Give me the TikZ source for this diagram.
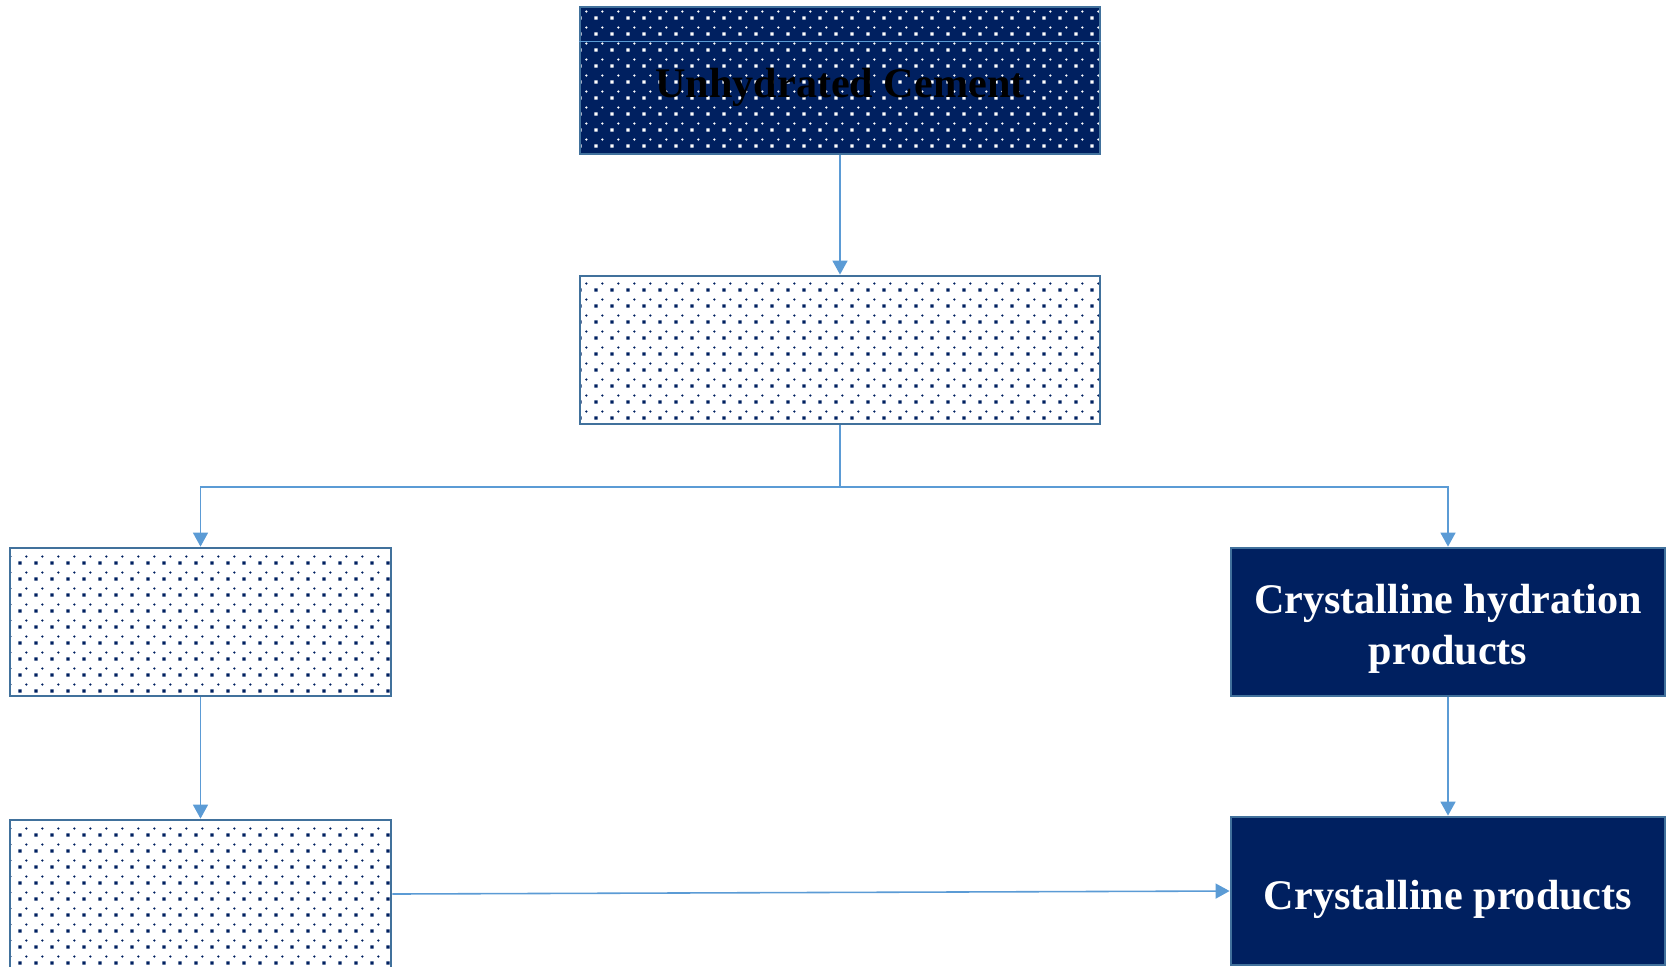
\documentclass[tikz,border=0pt]{standalone}
\usepackage{fontspec}
\setmainfont{Liberation Serif}
\usetikzlibrary{arrows.meta,patterns.meta}

\definecolor{navyfill}{RGB}{0,32,96}
\definecolor{boxline}{RGB}{65,113,156}
\definecolor{flowline}{RGB}{91,155,213}

\tikzdeclarepattern{
  name=dotgrid, type=uncolored,
  bottom left={(0,0)}, top right={(0.16cm,0.16cm)},
  tile size={(0.16cm,0.16cm)},
  code={
    \fill (0.025cm,0.025cm) rectangle (0.06cm,0.06cm);
    \fill (0.11cm,0.11cm) circle (0.013cm);
  }
}

\newcommand{\lowerstrut}[1]{\rule{0pt}{#1}}

\begin{document}
\begin{tikzpicture}
  \tikzset{box/.style = {draw=boxline, line width=0.8pt, inner sep=0pt, align=center,
      font=\fontsize{12}{14.5}\selectfont\bfseries}}
  \tikzset{dotbox/.style = {box, pattern=dotgrid, pattern color=navyfill}}
  \tikzset{darkdotbox/.style = {box, preaction={fill=navyfill}, pattern=dotgrid, pattern color=white}}
  \tikzset{darkbox/.style = {box, fill=navyfill, text=white}}
  \tikzset{flow/.style = {color=flowline, line width=0.45pt, -{Triangle[width=0.15cm,length=0.14cm]}}}

\useasboundingbox (0,0) rectangle (16.66,-9.66);

\node[darkdotbox, minimum width=5.20cm, minimum height=1.47cm] (cement) at (8.40,-0.805) {\lowerstrut{12.5pt}Unhydrated Cement};
\node[dotbox, minimum width=5.20cm, minimum height=1.48cm] (hyd) at (8.40,-3.50) {};
\node[dotbox, minimum width=3.81cm, minimum height=1.48cm] (amorph) at (2.005,-6.22) {};
\node[darkbox, minimum width=4.34cm, minimum height=1.48cm] (crysthyd) at (14.48,-6.22) {\lowerstrut{12pt}Crystalline hydration\\products};
\node[dotbox, minimum width=3.81cm, minimum height=1.48cm] (amorph2) at (2.005,-8.94) {};
\node[darkbox, minimum width=4.34cm, minimum height=1.48cm] (cryst) at (14.48,-8.91) {\lowerstrut{13pt}Crystalline products};

\coordinate (split) at (8.40,-4.87);

% thin line near the top of the first box
\draw[flowline, line width=0.4pt] ([yshift=-0.36cm]cement.north west) -- ([yshift=-0.36cm]cement.north east);

  \path[flow] (cement) edge (hyd);
  \draw[flowline, line width=0.45pt] (hyd.south) -- (split);
    \draw[flow] (split) -| (amorph.north);
    \draw[flow] (split) -| (crysthyd.north);
      \path[flow] (amorph) edge (amorph2);
      \path[flow] (crysthyd) edge (cryst);
        \path[flow] (amorph2.east) edge (cryst.west);

\end{tikzpicture}
\end{document}
